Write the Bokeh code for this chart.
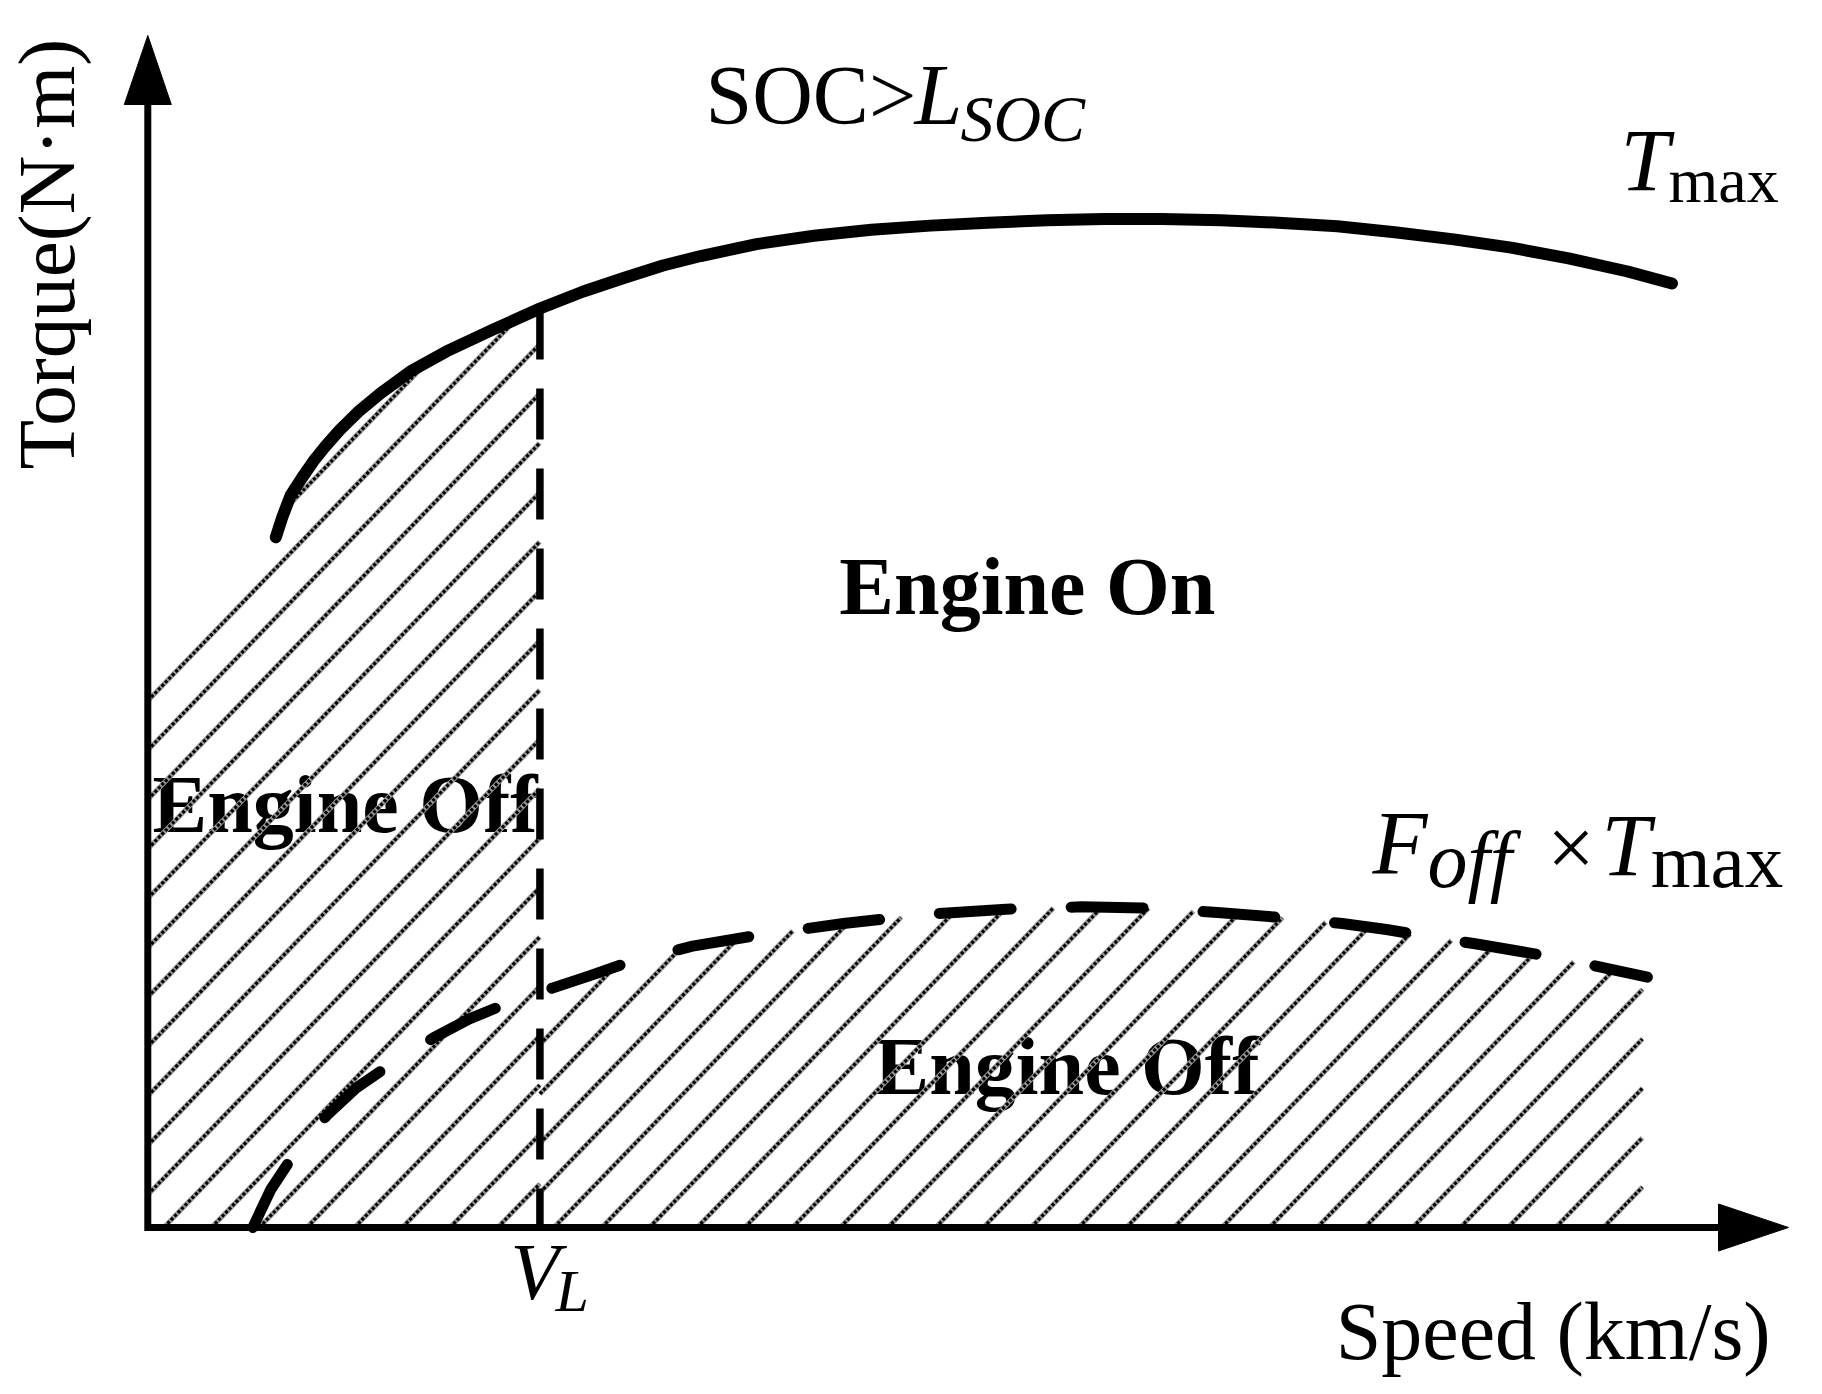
import numpy as np
from bokeh.plotting import figure
from bokeh.models import Range1d, Label
from bokeh.embed import file_html
from bokeh.resources import INLINE

# ---------------- data (speed / torque in % of the axis length) ----------------
tmax_speed = [7.8, 8.2, 8.7, 9.4, 10.1, 10.8, 11.7, 12.8, 14.2, 16.1, 18.2, 21.0,
              23.9, 26.5, 29.1, 31.4, 33.7, 37.1, 40.6, 44.1, 47.7, 51.2, 54.8,
              58.3, 61.8, 65.4, 68.9, 72.5, 76.0, 79.6, 83.1, 86.6, 90.2, 92.9]
tmax_torque = [57.9, 59.6, 61.4, 62.9, 64.3, 65.5, 66.9, 68.4, 70.0, 71.9, 73.5, 75.3,
               77.1, 78.5, 79.7, 80.7, 81.5, 82.5, 83.2, 83.7, 84.05, 84.3, 84.5,
               84.6, 84.6, 84.5, 84.3, 84.0, 83.5, 82.9, 82.2, 81.3, 80.2, 79.2]

foff_speed = [6.4, 7.5, 8.8, 10.9, 12.7, 14.6, 17.4, 19.6, 21.9, 24.7, 27.0, 29.4,
              33.2, 37.1, 42.4, 47.7, 52.3, 56.9, 61.2, 65.4, 69.1, 72.8, 75.5,
              78.1, 80.9, 83.5, 86.0, 88.7, 91.4]
foff_torque = [0.0, 3.2, 5.9, 9.4, 11.7, 13.5, 15.9, 17.5, 18.8, 20.1, 21.15, 22.3,
               23.6, 24.5, 25.5, 26.3, 26.7, 26.9, 26.8, 26.4, 26.0, 25.5, 25.0,
               24.4, 23.8, 23.2, 22.6, 21.8, 21.0]

V_L = 23.9                 # low-speed threshold
off_zone1_left_top = 48.3  # top of hatched zone at speed 0
off_zone2_left_top = 19.6  # top of hatched zone 2 at V_L
off_zone2_end = 91.1       # right edge of hatched zone 2
AXIS_END = 100.0

# ---------------- layout ----------------
W, H = 1822, 1394
KX, KY = 16.407, 11.92     # px per unit
OX, OY = 147.3, 1227.0     # origin inside the frame (px)

x0r = -OX / KX
y1r = OY / KY
p = figure(width=W, height=H, output_backend="svg", toolbar_location=None,
           x_range=Range1d(x0r, x0r + W / KX),
           y_range=Range1d(y1r - H / KY, y1r),
           x_axis_type=None, y_axis_type=None, min_border=0, title=None)
p.grid.visible = False
p.outline_line_color = None
p.background_fill_color = "white"
p.border_fill_color = "white"

FONT = "Liberation Serif"
BASE_FIX = 0.36  # em: renderer draws the alphabetic baseline this much too low


def lab(x, y, text, size, style="normal", angle=0.0, level="annotation"):
    d = BASE_FIX * size
    if angle:
        x = x - d / KX
    else:
        y = y + d / KY
    p.add_layout(Label(x=x, y=y, text=text, text_font=FONT, text_font_size=f"{size}px",
                       text_font_style=style, text_color="black", angle=angle,
                       text_align="left", text_baseline="alphabetic", level=level))


# texts below hatch
lab(0.29, 33.05, "Engine Off", 82, "bold", level="underlay")
lab(44.29, 10.99, "Engine Off", 82, "bold", level="underlay")

# ---------------- hatch ----------------
HATCH_ANGLE = np.deg2rad(46)
HSP = 47.7  # horizontal spacing px


def hatch(bx, by, x_lo, x_hi, phase_px):
    bxp = np.asarray(bx, float) * KX
    byp = np.asarray(by, float) * KY
    t = np.tan(HATCH_ANGLE)
    xp = np.arange(x_lo * KX, x_hi * KX + 0.01, 0.25)
    top = np.interp(xp, bxp, byp)
    xs, ys = [], []
    start = x_lo * KX - top.max() / t - HSP
    k = np.floor((start - phase_px) / HSP)
    x0 = phase_px + k * HSP
    while x0 <= x_hi * KX:
        yy = (xp - x0) * t
        inside = (yy >= 0) & (yy <= top)
        if inside.any():
            idx = np.where(inside)[0]
            runs = np.split(idx, np.where(np.diff(idx) > 1)[0] + 1)
            for r in runs:
                a, b = xp[r[0]], xp[r[-1]]
                xs.append([a / KX, b / KX])
                ys.append([(a - x0) * t / KY, (b - x0) * t / KY])
        x0 += HSP
    return xs, ys


z1x = [0.0] + [s for s in tmax_speed if s <= V_L]
z1y = [off_zone1_left_top] + [v for s, v in zip(tmax_speed, tmax_torque) if s <= V_L]
z2x = [V_L] + [s for s in foff_speed if s > V_L]
z2y = [off_zone2_left_top] + [v for s, v in zip(foff_speed, foff_torque) if s > V_L]

hx1, hy1 = hatch(z1x, z1y, 0.0, V_L, 16.0)
hx2, hy2 = hatch(z2x, z2y, V_L, off_zone2_end, 24.6)
hx, hy = hx1 + hx2, hy1 + hy2
p.multi_line(hx, hy, line_color="#999999", line_width=5)
p.multi_line(hx, hy, line_color="black", line_width=3.2, line_dash="3 2")

# ---------------- curves ----------------
p.line(tmax_speed, tmax_torque, line_color="black", line_width=12, line_cap="round",
       line_join="round")
p.line(foff_speed, foff_torque, line_color="black", line_width=11, line_cap="round",
       line_join="round", line_dash="72 60")

vl_top = float(np.interp(V_L, tmax_speed, tmax_torque))
p.line([V_L, V_L], [vl_top, 0], line_color="black", line_width=7.5, line_dash="51 29")

# ---------------- axes with arrow heads ----------------
head_len_x, head_len_y = 70 / KX, 69 / KY
half_w_x, half_w_y = 23.5 / KY, 23.5 / KX
p.line([0, 0, AXIS_END - head_len_x + 0.5], [AXIS_END - head_len_y + 0.5, 0, 0],
       line_color="black", line_width=7, line_join="miter")
p.patch([AXIS_END, AXIS_END - head_len_x, AXIS_END - head_len_x],
        [0, half_w_x, -half_w_x], fill_color="black", line_color="black", line_width=1)
p.patch([0, half_w_y, -half_w_y],
        [AXIS_END, AXIS_END - head_len_y, AXIS_END - head_len_y],
        fill_color="black", line_color="black", line_width=1)

# ---------------- labels ----------------
lab(42.15, 51.26, "Engine On", 82, "bold")
lab(-4.35, 63.59, "Torque(N·m)", 81, angle=np.pi / 2)
lab(72.4, -11.16, "Speed (km/s)", 82)

lab(33.99, 92.45, "SOC>", 84)
lab(46.73, 92.45, "L", 86, "italic")
lab(49.53, 91.02, "SOC", 66, "italic")

lab(89.76, 86.83, "T", 88, "italic")
lab(92.69, 85.91, "max", 64)

lab(74.65, 29.53, "F", 90, "italic")
lab(78.0, 28.44, "off", 80, "italic")
lab(85.3, 29.36, "×", 84)
lab(88.6, 29.36, "T", 88, "italic")
lab(91.6, 28.44, "max", 77)

lab(22.1, -6.12, "V", 80, "italic")
lab(24.85, -7.13, "L", 60, "italic")

open("out.html", "w").write(file_html(p, INLINE))
